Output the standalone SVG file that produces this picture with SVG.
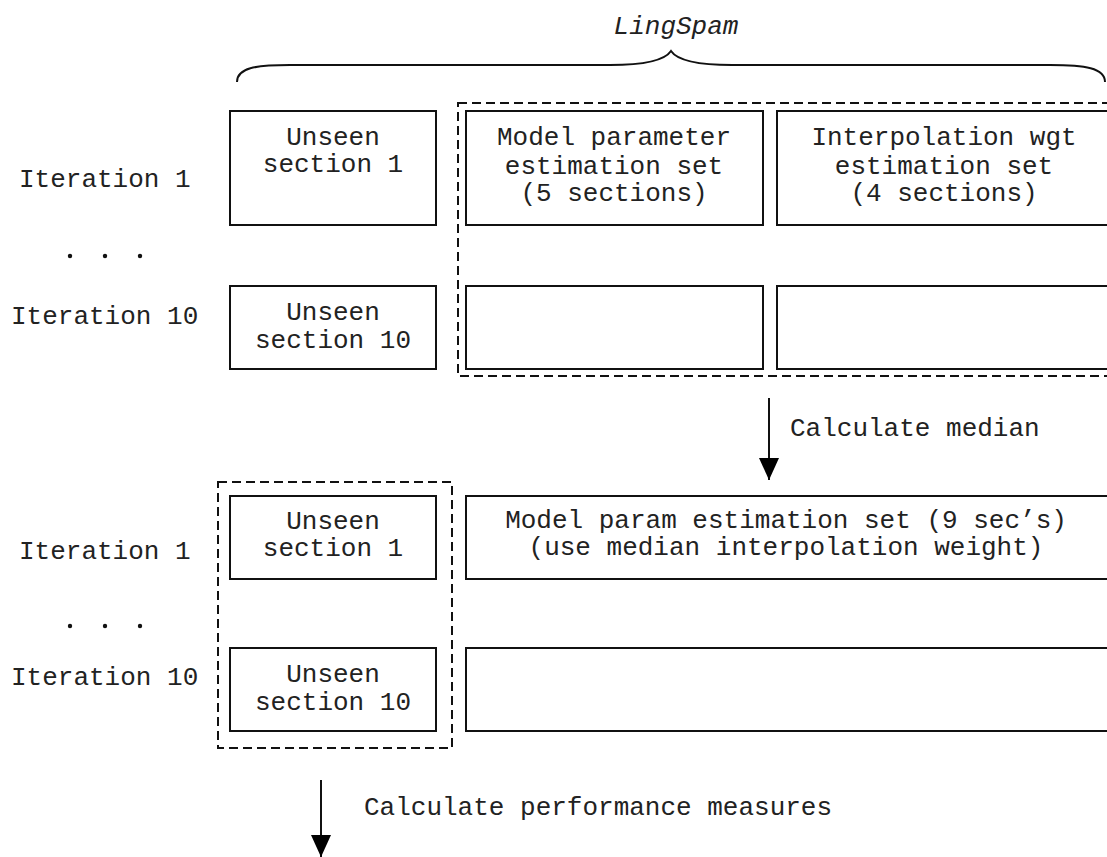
<svg xmlns="http://www.w3.org/2000/svg" width="1107" height="857" viewBox="0 0 1107 857">
<style>
text{font-family:"Liberation Mono","Courier New",monospace;font-size:26px;fill:#222}
.c{text-anchor:middle}
.box{fill:#fff;stroke:#111;stroke-width:2}
.dash{fill:none;stroke:#111;stroke-width:2;stroke-dasharray:9 5}
.line{fill:none;stroke:#111;stroke-width:2}
</style>
<defs>
<marker id="arr" markerWidth="22" markerHeight="20" refX="22" refY="10" orient="auto" markerUnits="userSpaceOnUse" viewBox="0 0 22 20">
<path d="M0,0 L22,10 L0,20 Z" fill="#000"/>
</marker>
</defs>
<rect width="1107" height="857" fill="#fff"/>
<g id="title">
<text class="c" x="676" y="34" font-style="italic">LingSpam</text>
<path class="line" d="M237,82 C237,68 255,65 290,65 L610,65 C645,65 665,60 671,51 C677,60 697,65 732,65 L1050,65 C1085,65 1105,68 1105,82"/>
</g>
<g id="labels">
<text x="19" y="187">Iteration 1</text>
<text x="11" y="324">Iteration 10</text>
<circle cx="70" cy="256" r="2.2" fill="#111"/><circle cx="105" cy="256" r="2.2" fill="#111"/><circle cx="140" cy="256" r="2.2" fill="#111"/>
<text x="19" y="559">Iteration 1</text>
<text x="11" y="685">Iteration 10</text>
<circle cx="70" cy="626" r="2.2" fill="#111"/><circle cx="105" cy="626" r="2.2" fill="#111"/><circle cx="140" cy="626" r="2.2" fill="#111"/>
</g>
<g id="group-top">
<rect class="dash" x="458" y="103" width="660" height="273"/>
</g>
<g id="top-unseen-1"><rect class="box" x="230" y="111" width="206" height="114"/>
<text class="c" x="333" y="145">Unseen</text><text class="c" x="333" y="172">section 1</text></g>
<g id="top-model-1"><rect class="box" x="466" y="111" width="297" height="114"/>
<text class="c" x="614" y="145">Model parameter</text><text class="c" x="614" y="174">estimation set</text><text class="c" x="614" y="201">(5 sections)</text></g>
<g id="top-interp-1"><rect class="box" x="777" y="111" width="334" height="114"/>
<text class="c" x="944" y="145">Interpolation wgt</text><text class="c" x="944" y="174">estimation set</text><text class="c" x="944" y="201">(4 sections)</text></g>
<g id="top-unseen-10"><rect class="box" x="230" y="286" width="206" height="83"/>
<text class="c" x="333" y="320">Unseen</text><text class="c" x="333" y="348">section 10</text></g>
<g id="top-model-10"><rect class="box" x="466" y="286" width="297" height="83"/></g>
<g id="top-interp-10"><rect class="box" x="777" y="286" width="334" height="83"/></g>
<g id="group-bottom">
<rect class="dash" x="218" y="482" width="234" height="266"/>
</g>
<g id="bot-unseen-1"><rect class="box" x="230" y="496" width="206" height="83"/>
<text class="c" x="333" y="529">Unseen</text><text class="c" x="333" y="556">section 1</text></g>
<g id="bot-model-1"><rect class="box" x="466" y="496" width="644" height="83"/>
<text class="c" x="786" y="528">Model param estimation set (9 sec’s)</text><text class="c" x="786" y="555">(use median interpolation weight)</text></g>
<g id="bot-unseen-10"><rect class="box" x="230" y="648" width="206" height="83"/>
<text class="c" x="333" y="682">Unseen</text><text class="c" x="333" y="710">section 10</text></g>
<g id="bot-model-10"><rect class="box" x="466" y="648" width="644" height="83"/></g>
<g id="connectors">
<line class="line" x1="769" y1="398" x2="769" y2="480" marker-end="url(#arr)"/>
<line class="line" x1="321" y1="780" x2="321" y2="857" marker-end="url(#arr)"/>
</g>
<g id="connector-labels">
<text x="790" y="436">Calculate median</text>
<text x="364" y="815">Calculate performance measures</text>
</g>
</svg>
